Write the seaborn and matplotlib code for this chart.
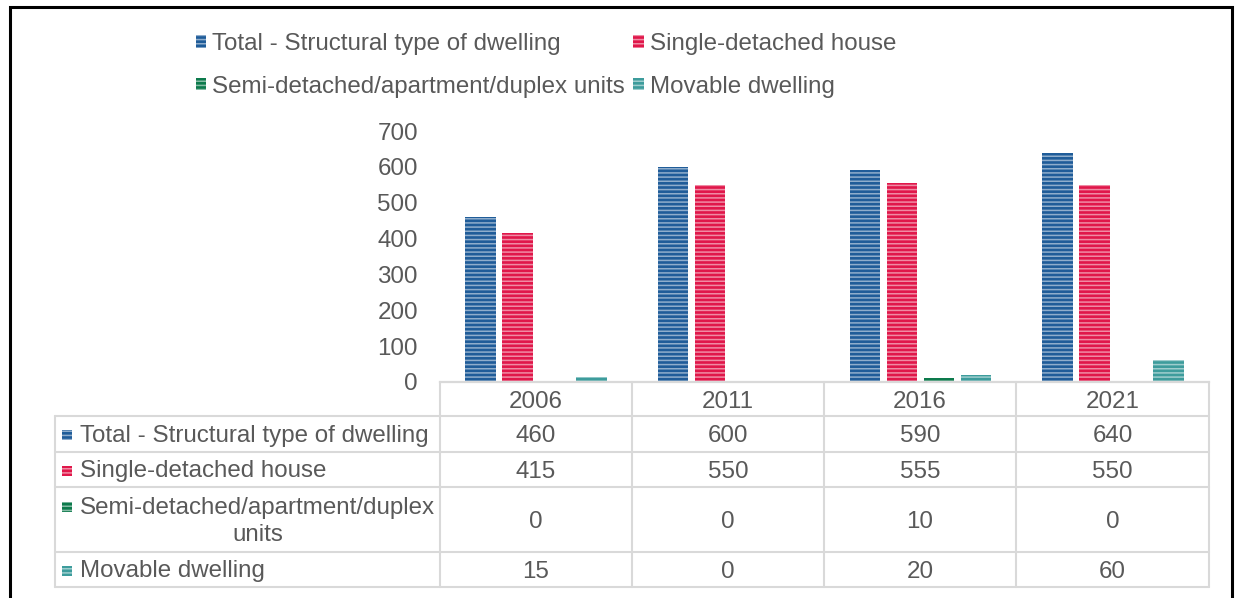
import numpy as np
import pandas as pd
import matplotlib
matplotlib.use("Agg")
import matplotlib.pyplot as plt
import seaborn as sns
from matplotlib.patches import Rectangle, Patch

# ---------------- data ----------------
years = ["2006", "2011", "2016", "2021"]
series = ["Total - Structural type of dwelling",
          "Single-detached house",
          "Semi-detached/apartment/duplex units",
          "Movable dwelling"]
table_labels = ["Total - Structural type of dwelling",
                "Single-detached house",
                "Semi-detached/apartment/duplex\nunits",
                "Movable dwelling"]
total = [460, 600, 590, 640]
single_detached = [415, 550, 555, 550]
semi_detached = [0, 0, 10, 0]
movable = [15, 0, 20, 60]
yticks = [0, 100, 200, 300, 400, 500, 600, 700]
colors = ["#1f5c99", "#e0174a", "#0d7a4c", "#3d9c9c"]

values = [total, single_detached, semi_detached, movable]
df = pd.DataFrame({
    "year": [y for s in series for y in years],
    "type": [s for s in series for _ in years],
    "value": [v for vals in values for v in vals],
})

# ---------------- style ----------------
sns.set_style("white")
plt.rcParams["font.family"] = ["Liberation Sans", "DejaVu Sans"]
plt.rcParams["hatch.linewidth"] = 1.1
TXT = "#595959"
GRID = "#d9d9d9"
FS = 17.4

W, H = 1238, 598
fig = plt.figure(figsize=(W / 100, H / 100), dpi=100)
fig.patch.set_facecolor("white")

ax = fig.add_axes([440 / W, (H - 382) / H, (1209 - 440) / W, (382 - 131) / H])
ax.patch.set_visible(False)
sns.barplot(data=df, x="year", y="value", hue="type", order=years,
            hue_order=series, palette=colors, width=0.77, gap=0.17,
            saturation=1, legend=False, ax=ax)
HATCH = "----"
HC = (1, 1, 1, 0.5)
for p in ax.patches:
    p.set_hatch(HATCH)
    p.set_edgecolor(HC)
    p.set_linewidth(0)

ax.set_ylim(0, 700)
ax.set_yticks(yticks)
ax.set_yticklabels([str(t) for t in yticks], fontsize=FS, color=TXT)
ax.tick_params(axis="y", length=0, pad=16)
ax.set_xticks([])
ax.set_xlabel("")
ax.set_ylabel("")
for s in ["top", "right", "left"]:
    ax.spines[s].set_visible(False)
ax.spines["bottom"].set_color(GRID)
ax.spines["bottom"].set_linewidth(1.6)

# ---------------- legend ----------------
handles = [Patch(facecolor=c, edgecolor=HC, linewidth=0, hatch=HATCH)
           for c in colors]
order = [0, 2, 1, 3]
fig.legend([handles[i] for i in order], [series[i] for i in order], ncol=2,
           loc="upper left", bbox_to_anchor=(196 / W, 1 - 33 / H),
           frameon=False, fontsize=FS, handlelength=0.42, handleheight=0.42,
           handletextpad=0.25, columnspacing=0.35, labelspacing=0.85,
           borderpad=0, borderaxespad=0, labelcolor=TXT)

# ---------------- data table ----------------
ov = fig.add_axes([0, 0, 1, 1])
ov.set_xlim(0, W)
ov.set_ylim(H, 0)
ov.axis("off")

col_edges = [440, 632, 824, 1016, 1209]
row_edges = [382, 416, 452, 487, 552, 587]
lw = 1.5
for x in col_edges:
    ov.plot([x, x], [382, 587], color=GRID, lw=lw)
ov.plot([55, 55], [416, 587], color=GRID, lw=lw)
for y in row_edges[1:]:
    ov.plot([55, 1209], [y, y], color=GRID, lw=lw)

DY = 2
centers_x = [(col_edges[i] + col_edges[i + 1]) / 2 for i in range(4)]
for i, yr in enumerate(years):
    ov.text(centers_x[i], 400 + DY, yr, ha="center", va="center", fontsize=FS, color=TXT)

for r, (lab, vals, c) in enumerate(zip(table_labels, values, colors)):
    yc = (row_edges[r + 1] + row_edges[r + 2]) / 2
    ov.text(80, yc + DY, lab, ha="left", va="center", fontsize=FS, color=TXT,
            multialignment="center", linespacing=1.24)
    my = yc + 1 if "\n" not in lab else yc - 13
    ov.add_patch(Rectangle((62, my - 5), 10, 10, facecolor=c,
                           edgecolor=HC, linewidth=0, hatch=HATCH))
    for i, v in enumerate(vals):
        ov.text(centers_x[i], yc + DY, str(v), ha="center", va="center",
                fontsize=FS, color=TXT)

# outer frame
ov.plot([9.5, 9.5, 1232, 1232], [610, 6.5, 6.5, 610], color="black", lw=2.2,
        clip_on=False, solid_joinstyle="miter")

fig.savefig("out.png", dpi=100)
